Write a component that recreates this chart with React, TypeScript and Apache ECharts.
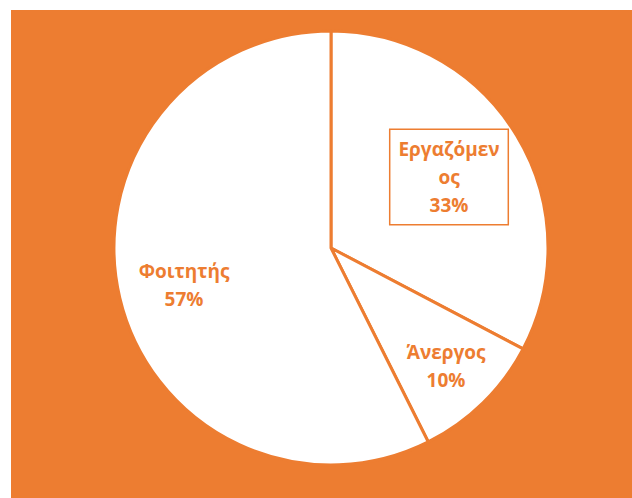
import React, { useEffect, useRef } from "react";
import * as echarts from "echarts";

const categories = ["Εργαζόμενος", "Άνεργος", "Φοιτητής"];
const values = [32.7, 9.9, 57.4];
const labelTexts = ["Εργαζόμεν\nος", "Άνεργος", "Φοιτητής"];

const ORANGE = "#ED7D31";
const FONT = "'Open Sans', 'Noto Sans', sans-serif";
const labelPos = [
  [449, 177],
  [446, 366],
  [184, 285],
];

export default function App() {
  const ref = useRef<HTMLDivElement>(null);
  useEffect(() => {
    if (!ref.current) return;
    const chart = echarts.init(ref.current, null, { renderer: "svg" });
    chart.setOption({
      animation: false,
      graphic: [
        {
          type: "rect",
          z: -10,
          shape: { x: 11, y: 10, width: 621, height: 488 },
          style: { fill: ORANGE },
        },
      ],
      series: [
        {
          type: "pie",
          center: [331, 248],
          radius: 217,
          startAngle: 90,
          clockwise: true,
          itemStyle: { color: "#FFFFFF", borderColor: ORANGE, borderWidth: 3 },
          label: {
            show: true,
            position: "inside",
            color: ORANGE,
            fontFamily: FONT,
            fontWeight: "bold",
            fontSize: 19,
            lineHeight: 28,
            align: "center",
            formatter: (p: any) => `${labelTexts[p.dataIndex]}\n${Math.round(p.percent)}%`,
          },
          labelLine: { show: false },
          labelLayout: (p: any) => ({
            x: labelPos[p.dataIndex][0],
            y: labelPos[p.dataIndex][1],
            align: "center",
            verticalAlign: "middle",
          }),
          emphasis: { disabled: true },
          data: categories.map((c, i) => ({
            name: c,
            value: values[i],
            label:
              i === 0
                ? {
                    borderColor: ORANGE,
                    borderWidth: 1.5,
                    padding: [6, 8, 4, 8],
                    backgroundColor: "#FFFFFF",
                  }
                : undefined,
          })),
        },
      ],
    });
    return () => chart.dispose();
  }, []);
  return (
    <div
      ref={ref}
      style={{ position: "absolute", left: 0, top: 0, width: 632, height: 498 }}
    />
  );
}
